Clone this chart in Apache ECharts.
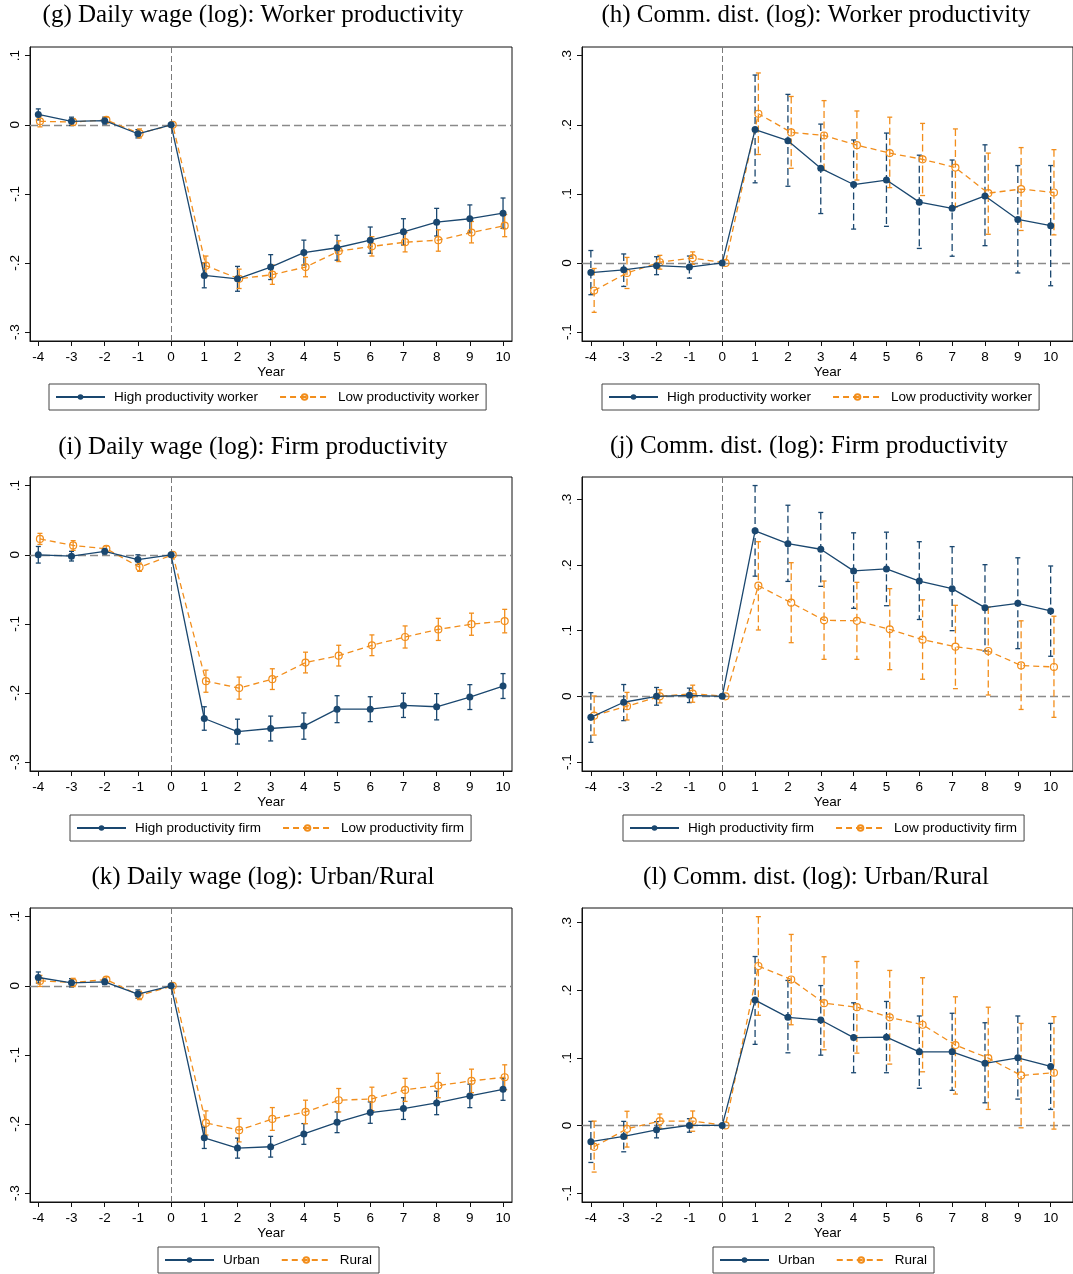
<!DOCTYPE html>
<html>
<head>
<meta charset="utf-8">
<script src="https://cdn.jsdelivr.net/npm/echarts@6/dist/echarts.min.js"></script>
<style>
html,body{margin:0;padding:0;background:#fff;}
#chart{width:1073px;height:1274px;}
</style>
</head>
<body>
<div id="chart"></div>
<script>
// ---------- data ----------
const years = [-4, -3, -2, -1, 0, 1, 2, 3, 4, 5, 6, 7, 8, 9, 10];
const wageTicks = [-0.3, -0.2, -0.1, 0, 0.1];
const distTicks = [-0.1, 0, 0.1, 0.2, 0.3];

// (g) Daily wage: worker productivity
const gHighEst = [0.015, 0.005, 0.006, -0.013, 0, -0.218, -0.223, -0.206, -0.185, -0.178, -0.167, -0.155, -0.141, -0.136, -0.128];
const gHighLo  = [0.007, -0.001, 0.001, -0.019, 0, -0.236, -0.241, -0.224, -0.203, -0.196, -0.186, -0.174, -0.161, -0.156, -0.150];
const gHighHi  = [0.023, 0.011, 0.011, -0.007, 0, -0.200, -0.205, -0.188, -0.167, -0.160, -0.148, -0.136, -0.121, -0.116, -0.106];
const gLowEst  = [0.005, 0.004, 0.007, -0.0125, 0, -0.204, -0.223, -0.217, -0.206, -0.183, -0.176, -0.170, -0.167, -0.156, -0.146];
const gLowLo   = [-0.003, -0.001, 0.003, -0.019, 0, -0.219, -0.237, -0.231, -0.220, -0.198, -0.190, -0.184, -0.183, -0.171, -0.162];
const gLowHi   = [0.013, 0.009, 0.011, -0.006, 0, -0.190, -0.209, -0.203, -0.192, -0.168, -0.162, -0.156, -0.152, -0.140, -0.130];

// (h) Commuting distance: worker productivity
const hHighEst = [-0.014, -0.010, -0.004, -0.006, 0, 0.193, 0.177, 0.137, 0.1135, 0.120, 0.088, 0.079, 0.097, 0.063, 0.054];
const hHighLo  = [-0.046, -0.034, -0.017, -0.022, 0, 0.116, 0.111, 0.0715, 0.049, 0.053, 0.021, 0.0097, 0.025, -0.0145, -0.033];
const hHighHi  = [0.018, 0.013, 0.009, 0.010, 0, 0.272, 0.244, 0.201, 0.178, 0.188, 0.156, 0.149, 0.171, 0.141, 0.141];
const hLowEst  = [-0.040, -0.0145, 0.001, 0.007, 0, 0.216, 0.189, 0.1845, 0.1705, 0.159, 0.150, 0.138, 0.101, 0.107, 0.102];
const hLowLo   = [-0.0715, -0.037, -0.009, -0.002, 0, 0.157, 0.137, 0.134, 0.120, 0.109, 0.0976, 0.081, 0.0415, 0.047, 0.0406];
const hLowHi   = [-0.008, 0.008, 0.011, 0.016, 0, 0.275, 0.241, 0.235, 0.220, 0.211, 0.202, 0.194, 0.159, 0.167, 0.164];

// (i) Daily wage: firm productivity
const iHighEst = [0, -0.002, 0.005, -0.007, 0, -0.237, -0.256, -0.2515, -0.248, -0.2235, -0.2235, -0.218, -0.220, -0.206, -0.190];
const iHighLo  = [-0.012, -0.009, 0.001, -0.014, 0, -0.254, -0.274, -0.2695, -0.267, -0.243, -0.2415, -0.2355, -0.239, -0.224, -0.208];
const iHighHi  = [0.012, 0.005, 0.009, 0.000, 0, -0.220, -0.238, -0.2335, -0.229, -0.204, -0.2055, -0.2005, -0.201, -0.188, -0.172];
const iLowEst  = [0.023, 0.0135, 0.0087, -0.018, 0, -0.183, -0.193, -0.180, -0.156, -0.146, -0.131, -0.119, -0.108, -0.1005, -0.096];
const iLowLo   = [0.015, 0.0065, 0.0047, -0.024, 0, -0.199, -0.209, -0.195, -0.171, -0.161, -0.146, -0.135, -0.124, -0.1165, -0.113];
const iLowHi   = [0.031, 0.0205, 0.0127, -0.012, 0, -0.167, -0.177, -0.165, -0.141, -0.131, -0.116, -0.103, -0.092, -0.0845, -0.079];

// (j) Commuting distance: firm productivity
const jHighEst = [-0.032, -0.009, 0, 0.0015, 0, 0.252, 0.2325, 0.224, 0.191, 0.194, 0.1756, 0.164, 0.135, 0.1416, 0.130];
const jHighLo  = [-0.070, -0.037, -0.0135, -0.0095, 0, 0.183, 0.175, 0.1675, 0.134, 0.138, 0.117, 0.100, 0.069, 0.0726, 0.061];
const jHighHi  = [0.0056, 0.018, 0.0135, 0.0125, 0, 0.321, 0.291, 0.280, 0.249, 0.250, 0.2355, 0.228, 0.2005, 0.211, 0.1985];
const jLowEst  = [-0.0294, -0.015, 0, 0.004, 0, 0.1685, 0.1426, 0.1157, 0.115, 0.102, 0.0863, 0.0756, 0.069, 0.047, 0.0447];
const jLowLo   = [-0.059, -0.036, -0.010, -0.009, 0, 0.101, 0.0817, 0.0563, 0.0563, 0.0406, 0.026, 0.0117, 0.002, -0.020, -0.032];
const jLowHi   = [0.0005, 0.006, 0.010, 0.017, 0, 0.2355, 0.2035, 0.1756, 0.1736, 0.164, 0.147, 0.1386, 0.136, 0.115, 0.122];

// (k) Daily wage: urban / rural
const kUrbEst = [0.012, 0.0043, 0.0058, -0.012, 0, -0.220, -0.235, -0.233, -0.2145, -0.1976, -0.1836, -0.1778, -0.1696, -0.1594, -0.1498];
const kUrbLo  = [0.004, -0.0017, 0.0018, -0.018, 0, -0.2355, -0.2495, -0.248, -0.2295, -0.2126, -0.1991, -0.1935, -0.1866, -0.1764, -0.1658];
const kUrbHi  = [0.020, 0.0103, 0.0098, -0.006, 0, -0.2045, -0.2205, -0.218, -0.1995, -0.1826, -0.1681, -0.1621, -0.1526, -0.1424, -0.1338];
const kRurEst = [0.007, 0.0048, 0.009, -0.014, 0, -0.1986, -0.209, -0.1928, -0.1826, -0.1657, -0.1638, -0.1507, -0.1444, -0.1377, -0.1324];
const kRurLo  = [-0.001, -0.0012, 0.005, -0.020, 0, -0.2161, -0.226, -0.2093, -0.1996, -0.1827, -0.1808, -0.1674, -0.1621, -0.1547, -0.1504];
const kRurHi  = [0.015, 0.0108, 0.013, -0.008, 0, -0.1811, -0.192, -0.1763, -0.1656, -0.1487, -0.1468, -0.134, -0.1267, -0.1207, -0.1144];

// (l) Commuting distance: urban / rural
const lUrbEst = [-0.024, -0.0163, -0.0064, 0, 0, 0.1855, 0.160, 0.156, 0.130, 0.1307, 0.109, 0.109, 0.092, 0.100, 0.0873];
const lUrbLo  = [-0.0548, -0.039, -0.0184, -0.010, 0, 0.120, 0.1075, 0.104, 0.078, 0.078, 0.055, 0.052, 0.0335, 0.039, 0.0237];
const lUrbHi  = [0.006, 0.006, 0.0056, 0.010, 0, 0.250, 0.2146, 0.207, 0.1815, 0.1835, 0.162, 0.166, 0.152, 0.162, 0.151];
const lRurEst = [-0.0316, -0.005, 0.0064, 0.0064, 0, 0.236, 0.216, 0.181, 0.175, 0.160, 0.149, 0.119, 0.0997, 0.074, 0.078];
const lRurLo  = [-0.069, -0.032, -0.0041, -0.0086, 0, 0.163, 0.149, 0.112, 0.107, 0.0908, 0.0794, 0.0464, 0.0237, -0.0035, -0.0054];
const lRurHi  = [0.0064, 0.021, 0.0169, 0.0214, 0, 0.309, 0.2827, 0.2496, 0.2427, 0.2294, 0.2186, 0.1904, 0.175, 0.151, 0.161];

// ---------- layout / style ----------
const BLUE = '#1a476f';
const ORANGE = '#f28e1c';
const SANS = '"Liberation Sans", Arial, sans-serif';
const SERIF = '"Liberation Serif", "DejaVu Serif", serif';

const panels = [
  {title: '(g) Daily wage (log): Worker productivity', tx: 253, ty: 3,
   grid: {left: 30, top: 47, width: 482, height: 294}, xr: [-4.25, 10.27], yr: [-0.313, 0.1126], ticks: wageTicks,
   off: 0.05, dashCI: false, names: ['High productivity worker', 'Low productivity worker'], lg: [49, 384],
   a: [gHighEst, gHighLo, gHighHi], b: [gLowEst, gLowLo, gLowHi]},
  {title: '(h) Comm. dist. (log): Worker productivity', tx: 816, ty: 3,
   grid: {left: 582, top: 47, width: 492, height: 294}, xr: [-4.27, 10.68], yr: [-0.113, 0.3126], ticks: distTicks,
   off: 0.1, dashCI: true, names: ['High productivity worker', 'Low productivity worker'], lg: [602, 384],
   a: [hHighEst, hHighLo, hHighHi], b: [hLowEst, hLowLo, hLowHi]},
  {title: '(i) Daily wage (log): Firm productivity', tx: 253, ty: 435,
   grid: {left: 30, top: 477, width: 482, height: 294}, xr: [-4.25, 10.27], yr: [-0.313, 0.1126], ticks: wageTicks,
   off: 0.05, dashCI: false, names: ['High productivity firm', 'Low productivity firm'], lg: [70, 815],
   a: [iHighEst, iHighLo, iHighHi], b: [iLowEst, iLowLo, iLowHi]},
  {title: '(j) Comm. dist. (log): Firm productivity', tx: 809, ty: 434,
   grid: {left: 582, top: 477, width: 492, height: 294}, xr: [-4.27, 10.68], yr: [-0.1137, 0.334], ticks: distTicks,
   off: 0.1, dashCI: true, names: ['High productivity firm', 'Low productivity firm'], lg: [623, 815],
   a: [jHighEst, jHighLo, jHighHi], b: [jLowEst, jLowLo, jLowHi]},
  {title: '(k) Daily wage (log): Urban/Rural', tx: 263, ty: 865,
   grid: {left: 30, top: 908, width: 482, height: 294}, xr: [-4.25, 10.27], yr: [-0.313, 0.1126], ticks: wageTicks,
   off: 0.05, dashCI: false, names: ['Urban', 'Rural'], lg: [158, 1247],
   a: [kUrbEst, kUrbLo, kUrbHi], b: [kRurEst, kRurLo, kRurHi]},
  {title: '(l) Comm. dist. (log): Urban/Rural', tx: 816, ty: 865,
   grid: {left: 582, top: 908, width: 492, height: 294}, xr: [-4.27, 10.68], yr: [-0.1133, 0.3218], ticks: distTicks,
   off: 0.1, dashCI: true, names: ['Urban', 'Rural'], lg: [713, 1247],
   a: [lUrbEst, lUrbLo, lUrbHi], b: [lRurEst, lRurLo, lRurHi]}
];

function fmtTick(v) {
  if (Math.abs(v) < 1e-9) return '0';
  const s = Math.abs(v).toFixed(1).replace(/^0/, '');
  return (v < 0 ? '-' : '') + s;
}

function ciSeries(idx, xs, lo, hi, color, dashed) {
  return {
    type: 'custom', xAxisIndex: idx, yAxisIndex: idx, z: 2, silent: true,
    data: xs.map((x, k) => [x, lo[k], hi[k]]),
    renderItem: function (params, api) {
      const x = api.value(0), l = api.value(1), h = api.value(2);
      if (l === h) return null;
      const pt = api.coord([x, h]);
      const pb = api.coord([x, l]);
      const style = {stroke: color, lineWidth: 1.3, fill: null};
      const dstyle = Object.assign({}, style, dashed ? {lineDash: [7, 3.5]} : {});
      return {type: 'group', children: [
        {type: 'line', shape: {x1: pt[0], y1: pt[1], x2: pb[0], y2: pb[1]}, style: dstyle},
        {type: 'line', shape: {x1: pt[0] - 2.5, y1: pt[1], x2: pt[0] + 2.5, y2: pt[1]}, style: style},
        {type: 'line', shape: {x1: pb[0] - 2.5, y1: pb[1], x2: pb[0] + 2.5, y2: pb[1]}, style: style}
      ]};
    }
  };
}

const option = {
  animation: false,
  backgroundColor: '#fff',
  title: [], grid: [], xAxis: [], yAxis: [], legend: [], series: []
};

panels.forEach((p, i) => {
  option.title.push({
    text: p.title, left: p.tx, top: p.ty, textAlign: 'center', padding: 0,
    textStyle: {fontFamily: SERIF, fontSize: 25, fontWeight: 'normal', color: '#000'}
  });
  option.grid.push(Object.assign({show: true, borderColor: '#111', borderWidth: 1, backgroundColor: '#fff'}, p.grid));
  option.xAxis.push({
    type: 'value', gridIndex: i, min: p.xr[0], max: p.xr[1],
    name: 'Year', nameLocation: 'middle', nameGap: 23,
    nameTextStyle: {fontFamily: SANS, fontSize: 13.5, color: '#000'},
    axisLine: {show: true, onZero: false, lineStyle: {color: '#111', width: 1}},
    axisTick: {show: true, length: 5, customValues: years, lineStyle: {color: '#111'}},
    axisLabel: {customValues: years, margin: 9, fontFamily: SANS, fontSize: 13.5, color: '#000'},
    splitLine: {show: false}
  });
  option.yAxis.push({
    type: 'value', gridIndex: i, min: p.yr[0], max: p.yr[1],
    axisLine: {show: true, onZero: false, lineStyle: {color: '#111', width: 1}},
    axisTick: {show: true, length: 5, customValues: p.ticks, lineStyle: {color: '#111'}},
    axisLabel: {customValues: p.ticks, rotate: 90, margin: 8, fontFamily: SANS, fontSize: 13.5, color: '#000', formatter: fmtTick},
    splitLine: {show: false}
  });
  option.legend.push({
    data: p.names, left: p.lg[0], top: p.lg[1], orient: 'horizontal',
    itemWidth: 49, itemHeight: 7, itemGap: 21,
    padding: [6, 7, 6, 6], borderColor: '#444', borderWidth: 1, borderRadius: 0,
    backgroundColor: '#fff',
    textStyle: {fontFamily: SANS, fontSize: 13.5, color: '#000', padding: [0, 0, 0, 4], lineHeight: 14},
    selectedMode: false
  });
  const xsA = years.slice();
  const xsB = years.map(y => y + p.off);
  option.series.push(ciSeries(i, xsA, p.a[1], p.a[2], BLUE, p.dashCI));
  option.series.push(ciSeries(i, xsB, p.b[1], p.b[2], ORANGE, p.dashCI));
  option.series.push({
    name: p.names[0], type: 'line', xAxisIndex: i, yAxisIndex: i, z: 4,
    data: xsA.map((x, k) => [x, p.a[0][k]]),
    symbol: 'circle', symbolSize: 7,
    itemStyle: {color: BLUE},
    lineStyle: {color: BLUE, width: 1.3, type: 'solid'},
    markLine: {
      silent: true, symbol: ['none', 'none'], label: {show: false}, z: 1,
      data: [
        {yAxis: 0, lineStyle: {color: '#8a8a8a', width: 1.3, type: [8, 4]}},
        {xAxis: 0, lineStyle: {color: '#7a7a7a', width: 1, type: [6, 3]}}
      ]
    }
  });
  option.series.push({
    name: p.names[1], type: 'line', xAxisIndex: i, yAxisIndex: i, z: 3,
    data: xsB.map((x, k) => [x, p.b[0][k]]),
    symbol: 'circle', symbolSize: 7,
    itemStyle: {color: 'rgba(255,255,255,0)', borderColor: ORANGE, borderWidth: 1.2},
    lineStyle: {color: ORANGE, width: 1.3, type: [6, 4]}
  });
});

const chart = echarts.init(document.getElementById('chart'), null, {renderer: 'canvas', width: 1073, height: 1274});
chart.setOption(option);
</script>
</body>
</html>
